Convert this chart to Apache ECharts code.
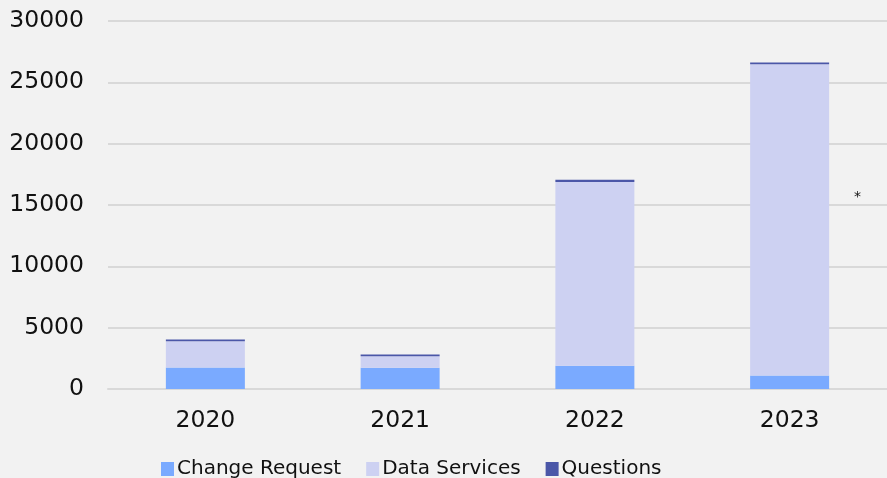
<!DOCTYPE html>
<html><head><meta charset="utf-8">
<script src="https://cdn.jsdelivr.net/npm/echarts@6/dist/echarts.min.js"></script>
<style>html,body{margin:0;padding:0;background:#F2F2F2;}#c{width:887px;height:478px;}</style>
</head><body><div id="c"></div>
<script>
const categories = ['2020', '2021', '2022', '2023'];
const changeRequest = [1760, 1730, 1900, 1100];
const dataServices = [2130, 950, 14970, 25370];
const questions = [140, 130, 180, 140];
const yTicks = [0, 5000, 10000, 15000, 20000, 25000, 30000];

const chart = echarts.init(document.getElementById('c'));
const font = 'DejaVu Sans, Verdana, sans-serif';
chart.setOption({
  backgroundColor: '#F2F2F2',
  animation: false,
  grid: { left: 108, right: -8, top: 21, bottom: 89, containLabel: false },
  xAxis: {
    type: 'category', data: categories,
    axisLine: { lineStyle: { color: '#D9D9D9', width: 2 } },
    axisTick: { show: false },
    axisLabel: { color: '#111', fontSize: 23.5, fontFamily: font, margin: 20 }
  },
  yAxis: {
    type: 'value', min: yTicks[0], max: yTicks[yTicks.length - 1], interval: 5000,
    axisLine: { show: false }, axisTick: { show: false },
    splitLine: { lineStyle: { color: '#D9D9D9', width: 2 } },
    axisLabel: { color: '#111', fontSize: 23.5, fontFamily: font, margin: 24,
      formatter: function (v) { return String(v); } }
  },
  legend: {
    top: 454, left: 156, itemWidth: 13, itemHeight: 14, itemGap: 25,
    icon: 'rect',
    textStyle: { color: '#111', fontSize: 20, fontFamily: font, padding: [0, 0, 0, -2] },
    data: ['Change Request', 'Data Services', 'Questions']
  },
  series: [
    { name: 'Change Request', type: 'bar', stack: 's', data: changeRequest, barWidth: 79,
      itemStyle: { color: '#7AAAFF' } },
    { name: 'Data Services', type: 'bar', stack: 's', data: dataServices,
      itemStyle: { color: '#CDD1F2' } },
    { name: 'Questions', type: 'bar', stack: 's', data: questions,
      itemStyle: { color: '#4B57A8' } }
  ],
  graphic: [{ type: 'text', left: 854, top: 190, style: { text: '*', fontSize: 14, fill: '#111', fontFamily: font } }]
});
</script></body></html>
